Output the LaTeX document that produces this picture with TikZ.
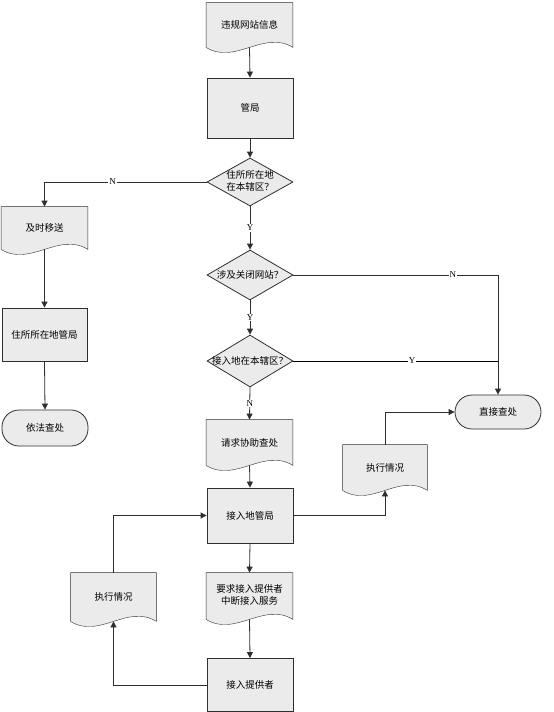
\documentclass[tikz,border=0pt]{standalone}
\usepackage{fontspec}
\setmainfont{Liberation Serif}
\newfontfamily\cjk{Noto Sans CJK SC}
\usetikzlibrary{shapes.geometric,arrows.meta,backgrounds}
\definecolor{shade}{HTML}{EBEBEB}
\definecolor{edge}{HTML}{2E2E2E}

\begin{document}
\begin{tikzpicture}[x=1pt,y=-1pt,line width=0.8pt,
  font=\cjk\fontsize{9.5}{12.5}\selectfont,
  box/.style={draw=edge,fill=shade,minimum width=86pt,inner sep=0pt},
  doc/.style={minimum width=86pt,inner sep=0pt},
  decision/.style={diamond,draw=edge,fill=shade,minimum width=86pt,inner sep=0pt,aspect=1.7},
  term/.style={draw=edge,fill=shade,rounded corners=17pt,minimum width=86pt,inner sep=0pt},
  arrow/.style={draw=edge,-{Triangle[length=6pt,width=6pt]}},
  yn/.style={font=\rmfamily\fontsize{9}{10}\selectfont,fill=white,inner sep=1pt}]
	\useasboundingbox (0,0) rectangle (554,712);

	% main column
	\node[doc, minimum height=44pt] (info) at (249.5,25) {违规网站信息};
	\node[box, minimum height=60pt] (bureau) at (250,108) {管局};
	\node[decision, minimum height=48pt] (q1) at (250,182)
	    {\makebox[0pt]{\begin{tabular}{@{}c@{}}住所所在地\\在本辖区？\end{tabular}}};
	\node[decision, minimum height=50pt] (q2) at (250,275) {\makebox[0pt]{涉及关闭网站？}};
	\node[decision, minimum height=52pt] (q3) at (250,361) {\makebox[0pt]{接入地在本辖区？}};
	\node[doc, minimum height=45pt] (assist) at (249.5,442.5) {请求协助查处};
	\node[box, minimum height=55pt] (access) at (250,515.5) {接入地管局};
	\node[doc, minimum height=46pt] (request) at (249.5,596)
	    {\begin{tabular}{@{}c@{}}要求接入提供者\\中断接入服务\end{tabular}};
	\node[box, minimum height=53pt] (provider) at (250,685) {接入提供者};

	% left column
	\node[doc, minimum height=42pt] (transfer) at (44.5,228) {及时移送};
	\node[box, minimum height=53pt, minimum width=85pt] (localb) at (44.5,334.5) {住所所在地管局};
	\node[term, minimum height=36pt] (punish) at (45,428) {依法查处};
	\node[doc, minimum height=48pt, minimum width=85pt] (report1) at (113.5,597) {执行情况};

	% right column
	\node[term, minimum height=34pt] (direct) at (498,412) {直接查处};
	\node[doc, minimum height=45pt, minimum width=84pt] (report2) at (385,467.5) {执行情况};

	\begin{scope}[on background layer]
	\foreach \d in {info,transfer,assist,report2,request,report1}
	    \draw[draw=edge,fill=shade] (\d.north west) -- (\d.north east) -- (\d.south east)
	        .. controls +(-29pt,18pt) and +(29pt,-18pt) .. (\d.south west) -- cycle;
	\end{scope}

	\draw[arrow] (info.south) -- (bureau.north);
	\draw[arrow] (bureau.south) -- (q1.north);
	\draw[arrow] (q1.west) -| node[yn, pos=0.29] {N} (transfer.north);
	\draw[arrow] (q1.south) -- node[yn] {Y} (q2.north);
	\draw[arrow] (q2.east) -| node[yn, pos=0.39] {N} (direct.north);
	\draw[arrow] (q2.south) -- node[yn] {Y} (q3.north);
	\draw (q3.east) -- node[yn, pos=0.58] {Y} (q3.east -| direct.north);
	\draw[arrow] (q3.south) -- node[yn] {N} (assist.north);
	\draw[arrow] (transfer.south) -- (localb.north);
	\draw[arrow] (localb.south) -- (punish.north);
	\draw[arrow] (assist.south) -- (access.north);
	\draw[arrow] (access.east) -| (report2.south);
	\draw[arrow] (report2.north) |- (direct.west);
	\draw[arrow] (access.south) -- (request.north);
	\draw[arrow] (request.south) -- (provider.north);
	\draw[arrow] (provider.west) -| (report1.south);
	\draw[arrow] (report1.north) |- (access.west);
\end{tikzpicture}
\end{document}
